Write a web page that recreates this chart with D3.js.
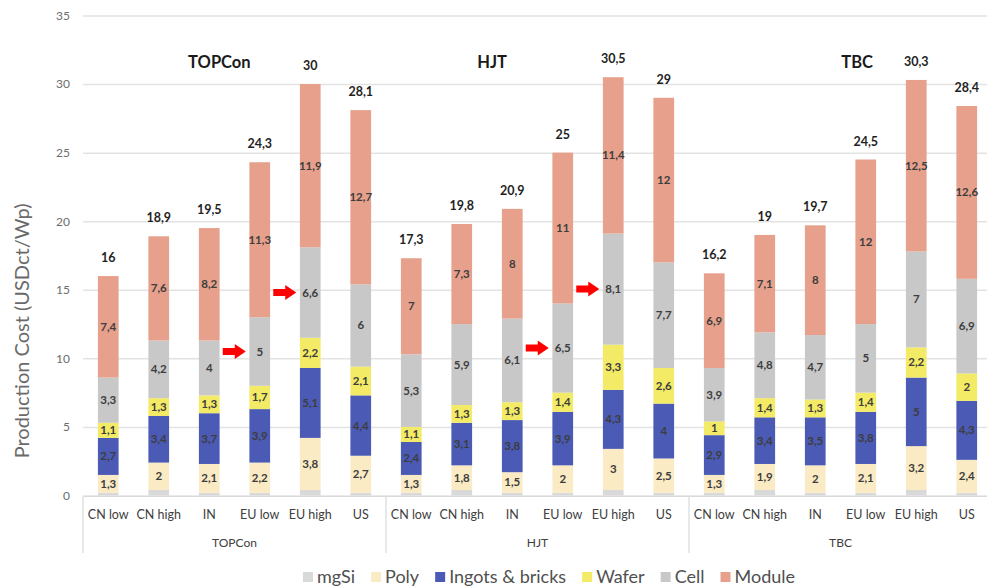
<!DOCTYPE html>
<html>
<head>
<meta charset="utf-8">
<script src="https://cdn.jsdelivr.net/npm/d3@7/dist/d3.min.js"></script>
<style>
  html, body { margin: 0; padding: 0; background: #fff; }
  svg { display: block; font-family: Lato, "Open Sans", sans-serif; }
</style>
</head>
<body>
<svg id="chart" width="987" height="588"></svg>
<script>
// Cell technologies and production regions
const groups = ["TOPCon", "HJT", "TBC"];
const regions = ["CN low", "CN high", "IN", "EU low", "EU high", "US"];

// Cost components (USDct/Wp), one value per technology × region, in order
const series = ["mgSi", "Poly", "Ingots & bricks", "Wafer", "Cell", "Module"];
const mgSi   = [0.2, 0.4, 0.2, 0.2, 0.4, 0.2,  0.2, 0.4, 0.2, 0.2, 0.4, 0.2,  0.2, 0.4, 0.2, 0.2, 0.4, 0.2];
const poly   = [1.3, 2, 2.1, 2.2, 3.8, 2.7,    1.3, 1.8, 1.5, 2, 3, 2.5,      1.3, 1.9, 2, 2.1, 3.2, 2.4];
const ingots = [2.7, 3.4, 3.7, 3.9, 5.1, 4.4,  2.4, 3.1, 3.8, 3.9, 4.3, 4,    2.9, 3.4, 3.5, 3.8, 5, 4.3];
const wafer  = [1.1, 1.3, 1.3, 1.7, 2.2, 2.1,  1.1, 1.3, 1.3, 1.4, 3.3, 2.6,  1, 1.4, 1.3, 1.4, 2.2, 2];
const cell   = [3.3, 4.2, 4, 5, 6.6, 6,        5.3, 5.9, 6.1, 6.5, 8.1, 7.7,  3.9, 4.8, 4.7, 5, 7, 6.9];
const module = [7.4, 7.6, 8.2, 11.3, 11.9, 12.7, 7, 7.3, 8, 11, 11.4, 12,    6.9, 7.1, 8, 12, 12.5, 12.6];
const totals = [16, 18.9, 19.5, 24.3, 30, 28.1, 17.3, 19.8, 20.9, 25, 30.5, 29, 16.2, 19, 19.7, 24.5, 30.3, 28.4];

// Y axis ticks
const yTicks = [0, 5, 10, 15, 20, 25, 30, 35];

// Bars whose cell cost is flagged with an arrow
const flagged = [["TOPCon", "EU low"], ["TOPCon", "EU high"], ["HJT", "EU low"], ["HJT", "EU high"]];

const colors = {
  "mgSi": "#d9d9d9",
  "Poly": "#fbebc4",
  "Ingots & bricks": "#4a5ab5",
  "Wafer": "#f3ea66",
  "Cell": "#c8c8c8",
  "Module": "#e6a08b"
};

const valuesBySeries = [mgSi, poly, ingots, wafer, cell, module];

// Flat table of bars
const rows = [];
groups.forEach((g, gi) => regions.forEach((r, ri) => {
  const i = gi * regions.length + ri;
  const row = { key: g + "|" + r, group: g, region: r, total: totals[i] };
  series.forEach((s, si) => row[s] = valuesBySeries[si][i]);
  rows.push(row);
}));

const svg = d3.select("#chart");
const x0 = 83, step = 50.5;
const x = d3.scaleBand()
  .domain(rows.map(d => d.key))
  .range([x0, x0 + step * rows.length])
  .paddingInner(0.59)
  .paddingOuter(0.295);
const y = d3.scaleLinear().domain([0, 35]).range([495.5, 15.5]);

// Gridlines and tick labels
const yAxis = d3.axisLeft(y).tickValues(yTicks).tickSize(-(x.range()[1] - x0)).tickPadding(13);
const gy = svg.append("g").attr("transform", `translate(${x0},0)`).call(yAxis);
gy.select(".domain").remove();
gy.selectAll(".tick line").attr("stroke", "#e3e3e3").attr("stroke-width", 1.5);
gy.selectAll(".tick text").attr("fill", "#6d6d6d").attr("font-size", 12).attr("font-family", "Lato, sans-serif");

// Axis title
svg.append("text")
  .attr("transform", `translate(29,${y(12)}) rotate(-90)`)
  .attr("text-anchor", "middle")
  .attr("fill", "#6a6a6a")
  .attr("font-size", 20)
  .text("Production Cost (USDct/Wp)");

// Stacked bars
const stack = d3.stack().keys(series)(rows);
const layers = svg.append("g").selectAll("g").data(stack).join("g")
  .attr("fill", d => colors[d.key]);
layers.selectAll("rect").data(d => d).join("rect")
  .attr("x", d => x(d.data.key))
  .attr("width", x.bandwidth())
  .attr("y", d => y(d[1]))
  .attr("height", d => y(d[0]) - y(d[1]));

// Segment value labels (all components except mgSi)
const fmt = v => String(v).replace(".", ",");
const labelLayers = svg.append("g").selectAll("g").data(stack.filter(s => s.key !== "mgSi")).join("g");
labelLayers.selectAll("text").data(s => s.map(d => ({ d, key: s.key }))).join("text")
  .attr("x", ({ d }) => x(d.data.key) + x.bandwidth() / 2)
  .attr("y", ({ d }) => y((d[0] + d[1]) / 2))
  .attr("dy", "0.35em")
  .attr("text-anchor", "middle")
  .attr("font-size", 11.5)
  .attr("font-weight", 700)
  .attr("fill", "#3d3d3d")
  .text(({ d, key }) => fmt(d.data[key]));

// Totals above bars
svg.append("g").selectAll("text").data(rows).join("text")
  .attr("x", d => x(d.key) + x.bandwidth() / 2)
  .attr("y", d => y(d.total) - 14)
  .attr("text-anchor", "middle")
  .attr("font-size", 12.5)
  .attr("font-weight", 700)
  .attr("fill", "#1f1f1f")
  .text(d => fmt(d.total));

// Technology titles inside the plot
const titleAt = [["TOPCon", 2.2], ["HJT", 1.6], ["TBC", 2.83]];
svg.append("g").selectAll("text").data(titleAt).join("text")
  .attr("x", ([g, off]) => x(g + "|" + regions[0]) + x.bandwidth() / 2 + off * step)
  .attr("y", 68)
  .attr("text-anchor", "middle")
  .attr("font-size", 16.5)
  .attr("font-weight", 700)
  .attr("fill", "#1a1a1a")
  .text(([g]) => g);

// Red arrows pointing at the flagged cell costs
const arrow = svg.append("g").attr("fill", "#ff0000");
flagged.forEach(([g, r]) => {
  const d = rows.find(row => row.group === g && row.region === r);
  const base = d.mgSi + d.Poly + d["Ingots & bricks"] + d.Wafer;
  const cy = y(base + d.Cell / 2);
  const tip = x(d.key) + x.bandwidth() / 2 - 14;
  const path = d3.path();
  path.moveTo(tip - 23, cy - 3.5);
  path.lineTo(tip - 11, cy - 3.5);
  path.lineTo(tip - 11, cy - 7.5);
  path.lineTo(tip, cy);
  path.lineTo(tip - 11, cy + 7.5);
  path.lineTo(tip - 11, cy + 3.5);
  path.lineTo(tip - 23, cy + 3.5);
  path.closePath();
  arrow.append("path").attr("d", path.toString());
});

// Category axis: region labels, technology labels and separators
const axisY = y(0) + 1;
const axisBottom = 553;
const axisG = svg.append("g").attr("stroke", "#d9d9d9").attr("stroke-width", 1.2);
axisG.append("line").attr("x1", x0).attr("x2", x.range()[1]).attr("y1", axisY).attr("y2", axisY);
groups.forEach((g, gi) => {
  const bx = x0 + gi * regions.length * step;
  axisG.append("line").attr("x1", bx).attr("x2", bx).attr("y1", axisY).attr("y2", axisBottom);
});

svg.append("g").selectAll("text").data(rows).join("text")
  .attr("x", d => x(d.key) + x.bandwidth() / 2)
  .attr("y", 519)
  .attr("text-anchor", "middle")
  .attr("font-size", 12.5)
  .attr("fill", "#404040")
  .text(d => d.region);

svg.append("g").selectAll("text").data(groups).join("text")
  .attr("x", (g, gi) => x0 + (gi + 0.5) * regions.length * step)
  .attr("y", 547)
  .attr("text-anchor", "middle")
  .attr("font-size", 12)
  .attr("fill", "#404040")
  .text(g => g);

// Legend
const legend = svg.append("g").attr("transform", "translate(0,577)");
let lx = 0;
const items = legend.selectAll("g").data(series).join("g");
items.append("rect").attr("y", -5).attr("width", 10).attr("height", 10).attr("fill", d => colors[d]);
items.append("text").attr("x", 14).attr("dy", "0.35em")
  .attr("font-size", 18).attr("fill", "#505050").text(d => d);
items.each(function () {
  const w = this.querySelector("text").getComputedTextLength();
  d3.select(this).attr("transform", `translate(${lx},0)`);
  lx += 14 + w + 16;
});
const legendW = lx - 16;
legend.attr("transform", `translate(${549 - legendW / 2},577)`);
</script>
</body>
</html>
